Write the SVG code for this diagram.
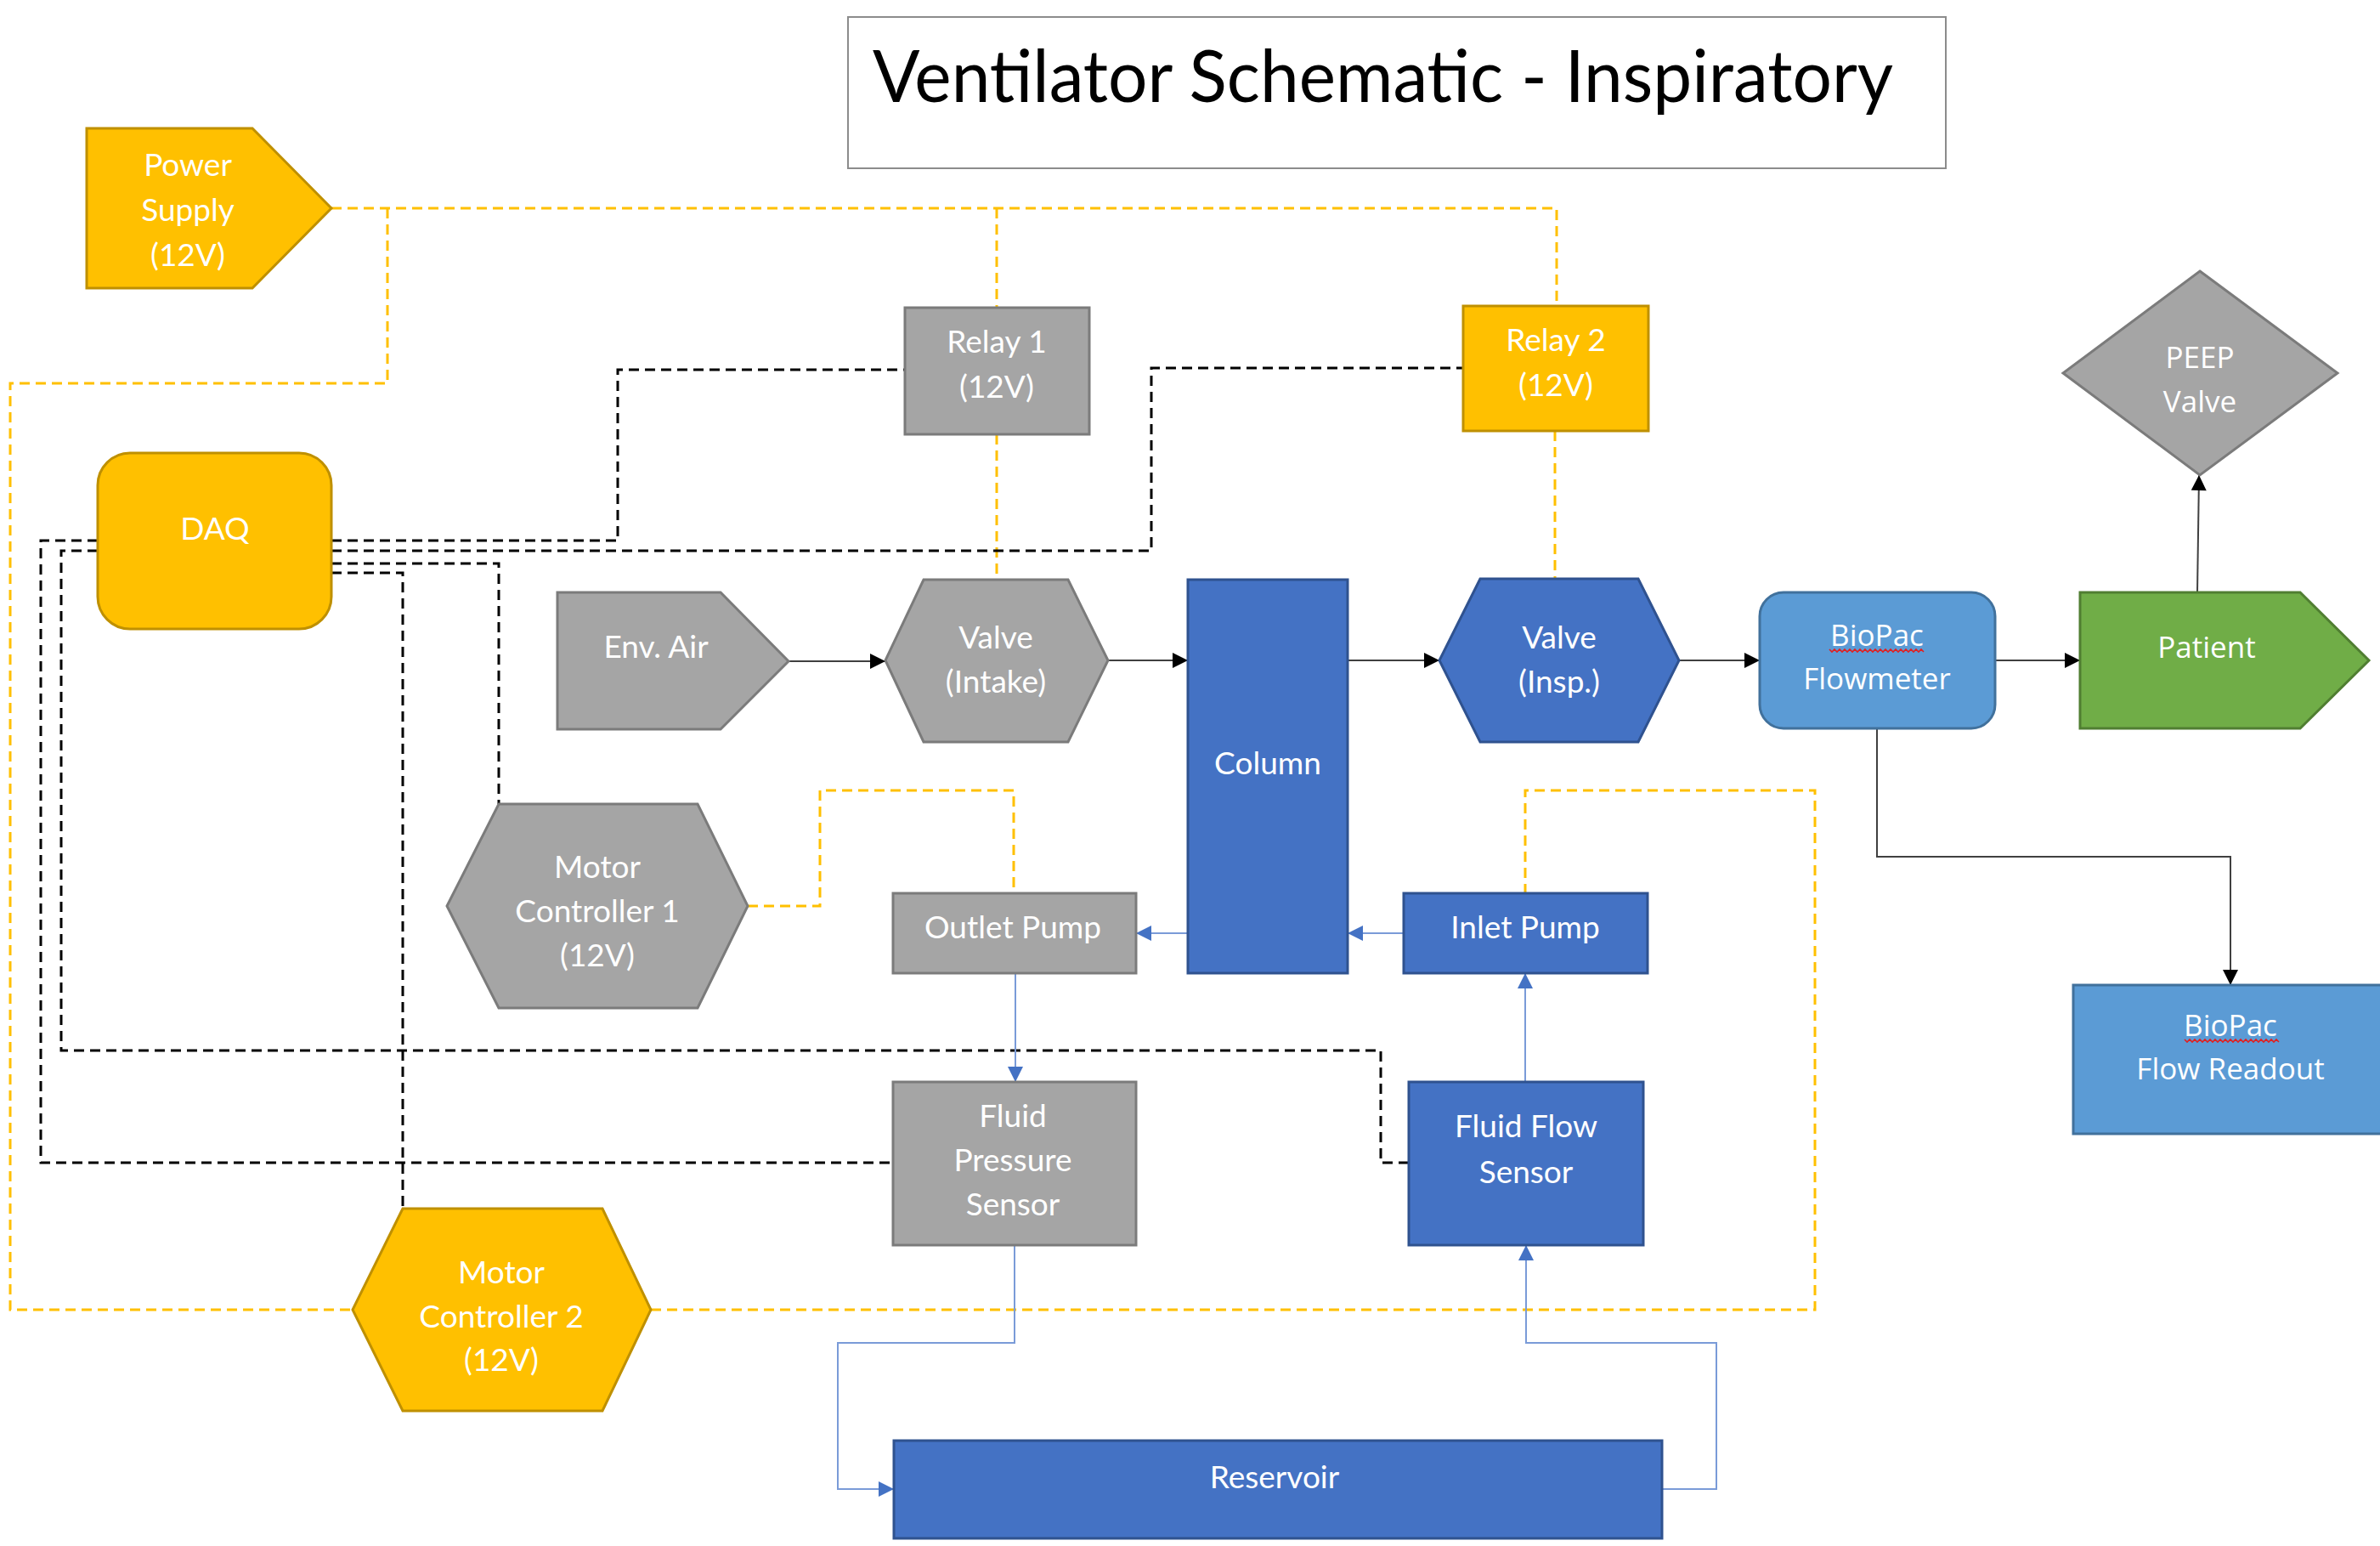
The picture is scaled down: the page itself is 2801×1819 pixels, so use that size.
<svg xmlns="http://www.w3.org/2000/svg" width="2801" height="1819" viewBox="0 0 2801 1819">
<defs>
<style>
.t{font-family:Lato,"Open Sans","Liberation Sans",sans-serif;font-size:37px;fill:#ffffff;text-anchor:middle}
.s{font-family:"Open Sans","Noto Sans","Liberation Sans",sans-serif;font-size:35px;fill:#ffffff;text-anchor:middle}
.yel{fill:#FFC000;stroke:#BF9000;stroke-width:3}
.gry{fill:#A5A5A5;stroke:#7B7B7B;stroke-width:3}
.blu{fill:#4472C4;stroke:#2F528F;stroke-width:3}
.lbl{fill:#5B9BD5;stroke:#41719C;stroke-width:3}
.grn{fill:#70AD47;stroke:#507E32;stroke-width:3}
.yd{fill:none;stroke:#FFC000;stroke-width:3;stroke-dasharray:12 7}
.bd{fill:none;stroke:#000000;stroke-width:3;stroke-dasharray:12 7}
.fl{fill:none;stroke:#404040;stroke-width:2}
.bl{fill:none;stroke:#7A9BD8;stroke-width:2}
.sq{fill:none;stroke:#E02020;stroke-width:1.6}
</style>
<marker id="ab" viewBox="0 0 10 10" refX="10" refY="5" markerWidth="20" markerHeight="18" markerUnits="userSpaceOnUse" orient="auto"><path d="M0,0 L10,5 L0,10 z" fill="#000"/></marker>
<marker id="abl" viewBox="0 0 10 10" refX="10" refY="5" markerWidth="18" markerHeight="18" markerUnits="userSpaceOnUse" orient="auto"><path d="M0,0 L10,5 L0,10 z" fill="#4472C4"/></marker>
</defs>
<rect width="2801" height="1819" fill="#ffffff"/>

<g id="connectors">
<!-- power (yellow dashed) -->
<path class="yd" d="M390 245 H1832 V360"/>
<path class="yd" d="M1173 245 V362"/>
<path class="yd" d="M456 245 V451 H12 V1541 H415"/>
<path class="yd" d="M1173 511 V682"/>
<path class="yd" d="M1830 507 V681"/>
<path class="yd" d="M766 1541 H2136 V930 H1795 V1051"/>
<path class="yd" d="M880 1066 H965 V930 H1193 V1051"/>
<!-- signal (black dashed) -->
<path class="bd" d="M390 636 H727 V435 H1065"/>
<path class="bd" d="M115 636 H48 V1368 H1051"/>
<path class="bd" d="M390 648 H1355 V433 H1722"/>
<path class="bd" d="M115 648 H72 V1236 H1625 V1368 H1658"/>
<path class="bd" d="M390 663 H587 V946"/>
<path class="bd" d="M390 674 H474 V1422"/>
<!-- air flow -->
<path class="fl" d="M928 778 H1042" marker-end="url(#ab)"/>
<path class="fl" d="M1304 777 H1398" marker-end="url(#ab)"/>
<path class="fl" d="M1586 777 H1694" marker-end="url(#ab)"/>
<path class="fl" d="M1976 777 H2071" marker-end="url(#ab)"/>
<path class="fl" d="M2348 777 H2448" marker-end="url(#ab)"/>
<path class="fl" d="M2586 697 L2588 559" marker-end="url(#ab)"/>
<path class="fl" d="M2209 857 V1008 H2625 V1159" marker-end="url(#ab)"/>
<!-- fluid flow -->
<path class="bl" d="M1398 1098 H1337" marker-end="url(#abl)"/>
<path class="bl" d="M1652 1098 H1586" marker-end="url(#abl)"/>
<path class="bl" d="M1195 1145 V1273" marker-end="url(#abl)"/>
<path class="bl" d="M1795 1273 V1145" marker-end="url(#abl)"/>
<path class="bl" d="M1194 1465 V1580 H986 V1752 H1052" marker-end="url(#abl)"/>
<path class="bl" d="M1956 1752 H2020 V1580 H1796 V1465" marker-end="url(#abl)"/>
</g>

<g id="title">
<rect x="998" y="20" width="1292" height="178" fill="#ffffff" stroke="#8C8C8C" stroke-width="2"/>
<text x="1027" y="120" font-family="Lato,'Open Sans','Liberation Sans',sans-serif" font-size="86" fill="#000" textLength="1201" lengthAdjust="spacingAndGlyphs">Ventilator Schematic - Inspiratory</text>
</g>

<g id="power-supply">
<polygon class="yel" points="102,151 297,151 390,245 297,339 102,339"/>
<text class="t" x="221" y="207">Power</text>
<text class="t" x="221" y="260">Supply</text>
<text class="t" x="221" y="313">(12V)</text>
</g>

<g id="daq">
<rect class="yel" x="115" y="533" width="275" height="207" rx="38"/>
<text class="t" x="253" y="635">DAQ</text>
</g>

<g id="relay1">
<rect class="gry" x="1065" y="362" width="217" height="149"/>
<text class="t" x="1173" y="415">Relay 1</text>
<text class="t" x="1173" y="468">(12V)</text>
</g>

<g id="relay2">
<rect class="yel" x="1722" y="360" width="218" height="147"/>
<text class="t" x="1831" y="413">Relay 2</text>
<text class="t" x="1831" y="466">(12V)</text>
</g>

<g id="env-air">
<polygon class="gry" points="656,697 848,697 928,778 848,858 656,858"/>
<text class="t" x="772" y="774">Env. Air</text>
</g>

<g id="valve-intake">
<polygon class="gry" points="1087,682 1257,682 1304,777 1257,873 1087,873 1042,777"/>
<text class="t" x="1172" y="763">Valve</text>
<text class="t" x="1172" y="815">(Intake)</text>
</g>

<g id="column">
<rect class="blu" x="1398" y="682" width="188" height="463"/>
<text class="t" x="1492" y="911">Column</text>
</g>

<g id="valve-insp">
<polygon class="blu" points="1742,681 1928,681 1976,777 1928,873 1742,873 1694,777"/>
<text class="t" x="1835" y="763">Valve</text>
<text class="t" x="1835" y="815">(Insp.)</text>
</g>

<g id="biopac-flowmeter">
<rect class="lbl" x="2071" y="697" width="277" height="160" rx="28"/>
<text class="s" x="2209" y="760">BioPac</text>
<polyline class="sq" points="2153,764 2156,767 2159,764 2162,767 2165,764 2168,767 2171,764 2174,767 2177,764 2180,767 2183,764 2186,767 2189,764 2192,767 2195,764 2198,767 2201,764 2204,767 2207,764 2210,767 2213,764 2216,767 2219,764 2222,767 2225,764 2228,767 2231,764 2234,767 2237,764 2240,767 2243,764 2246,767 2249,764 2252,767 2255,764 2258,767 2261,764 2264,767"/>
<text class="s" x="2209" y="811">Flowmeter</text>
</g>

<g id="patient">
<polygon class="grn" points="2448,697 2707,697 2788,777 2707,857 2448,857"/>
<text class="s" x="2597" y="774">Patient</text>
</g>

<g id="peep-valve">
<polygon class="gry" points="2589,319 2751,439 2589,559 2428,439"/>
<text class="s" x="2589" y="433">PEEP</text>
<text class="s" x="2589" y="485">Valve</text>
</g>

<g id="biopac-readout">
<rect class="lbl" x="2440" y="1159" width="366" height="175"/>
<text class="s" x="2625" y="1219">BioPac</text>
<polyline class="sq" points="2571,1223 2574,1226 2577,1223 2580,1226 2583,1223 2586,1226 2589,1223 2592,1226 2595,1223 2598,1226 2601,1223 2604,1226 2607,1223 2610,1226 2613,1223 2616,1226 2619,1223 2622,1226 2625,1223 2628,1226 2631,1223 2634,1226 2637,1223 2640,1226 2643,1223 2646,1226 2649,1223 2652,1226 2655,1223 2658,1226 2661,1223 2664,1226 2667,1223 2670,1226 2673,1223 2676,1226 2679,1223 2682,1226"/>
<text class="s" x="2625" y="1270">Flow Readout</text>
</g>

<g id="motor-controller-1">
<polygon class="gry" points="587,946 821,946 880,1066 821,1186 587,1186 526,1066"/>
<text class="t" x="703" y="1033">Motor</text>
<text class="t" x="703" y="1085">Controller 1</text>
<text class="t" x="703" y="1137">(12V)</text>
</g>

<g id="outlet-pump">
<rect class="gry" x="1051" y="1051" width="286" height="94"/>
<text class="t" x="1192" y="1104">Outlet Pump</text>
</g>

<g id="inlet-pump">
<rect class="blu" x="1652" y="1051" width="287" height="94"/>
<text class="t" x="1795" y="1104">Inlet Pump</text>
</g>

<g id="fluid-pressure-sensor">
<rect class="gry" x="1051" y="1273" width="286" height="192"/>
<text class="t" x="1192" y="1326">Fluid</text>
<text class="t" x="1192" y="1378">Pressure</text>
<text class="t" x="1192" y="1430">Sensor</text>
</g>

<g id="fluid-flow-sensor">
<rect class="blu" x="1658" y="1273" width="276" height="192"/>
<text class="t" x="1796" y="1338">Fluid Flow</text>
<text class="t" x="1796" y="1392">Sensor</text>
</g>

<g id="motor-controller-2">
<polygon class="yel" points="474,1422 709,1422 766,1541 709,1660 474,1660 415,1541"/>
<text class="t" x="590" y="1510">Motor</text>
<text class="t" x="590" y="1562">Controller 2</text>
<text class="t" x="590" y="1613">(12V)</text>
</g>

<g id="reservoir">
<rect class="blu" x="1052" y="1695" width="904" height="115"/>
<text class="t" x="1500" y="1751">Reservoir</text>
</g>
</svg>
